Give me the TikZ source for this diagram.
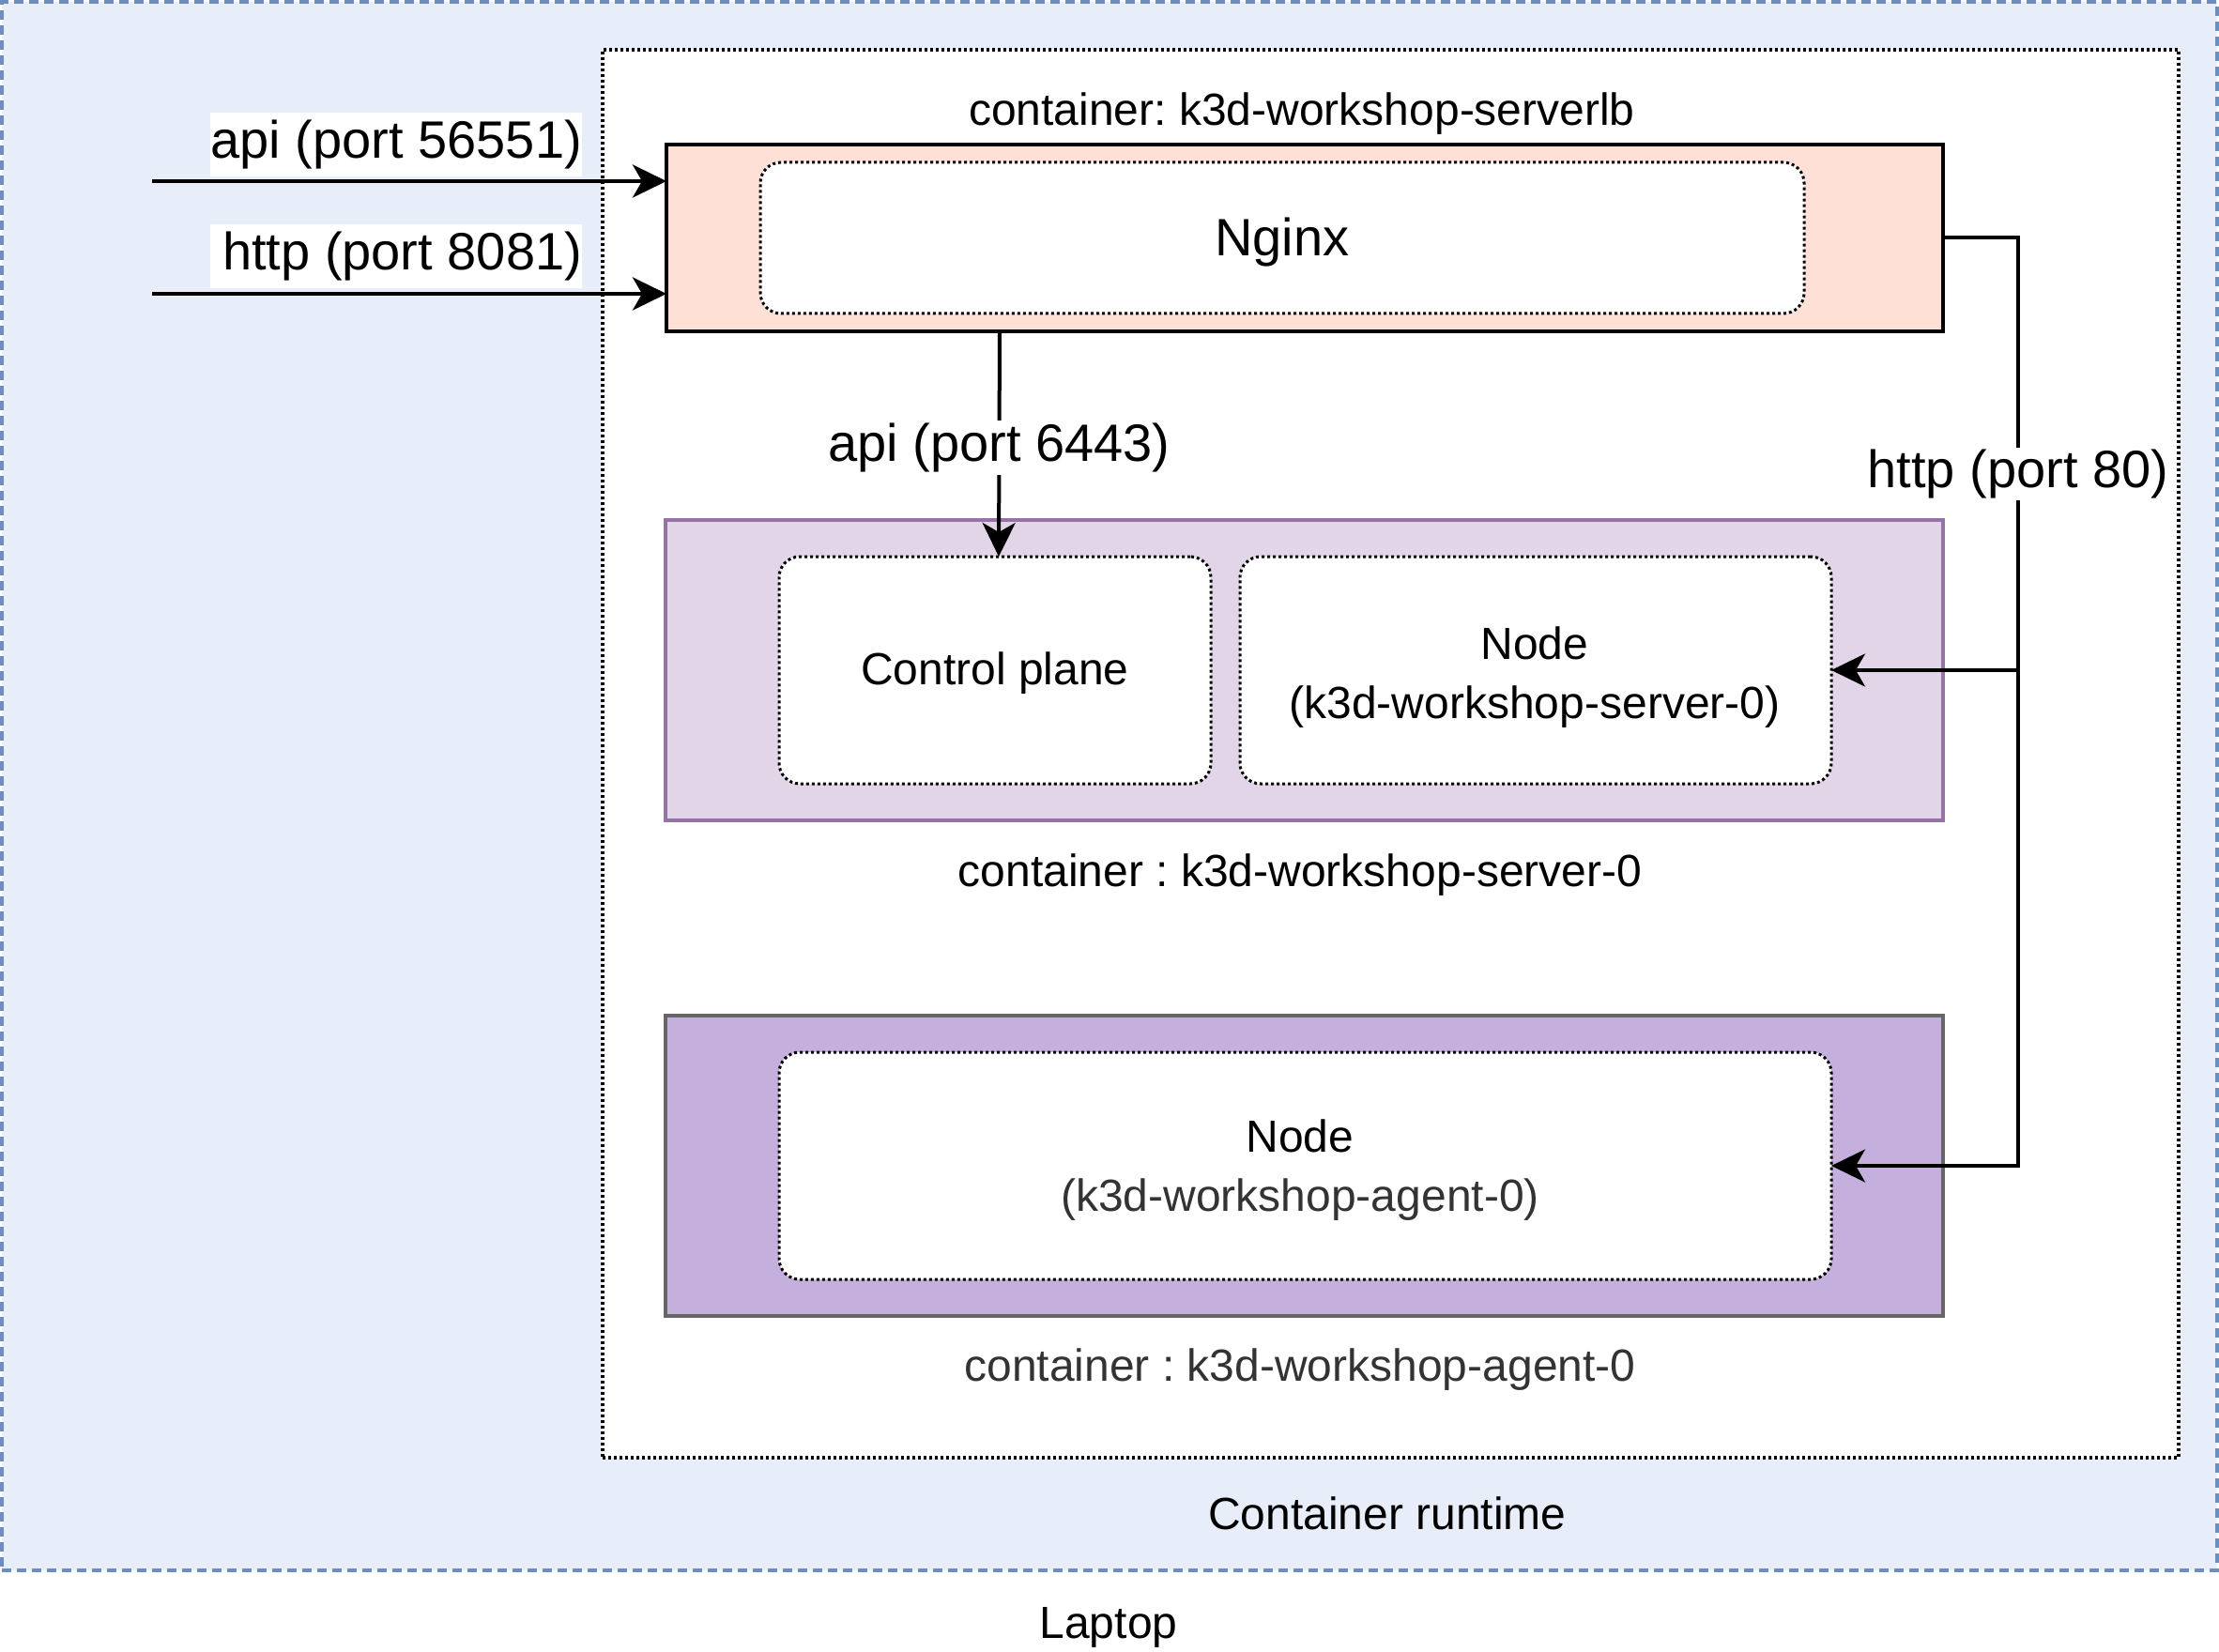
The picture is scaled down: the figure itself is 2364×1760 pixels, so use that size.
\documentclass[tikz,border=0pt]{standalone}
\usepackage{fontspec}
\setmainfont{Liberation Sans}
\usetikzlibrary{arrows.meta}
\definecolor{laptopbg}{HTML}{E7EEF9}
\definecolor{laptopline}{HTML}{6C8EBF}
\definecolor{lbfill}{HTML}{FFE0D7}
\definecolor{srvfill}{HTML}{E1D5E7}
\definecolor{srvline}{HTML}{9673A6}
\definecolor{agfill}{HTML}{C5B0DD}
\definecolor{agline}{HTML}{666666}
\definecolor{darktext}{HTML}{333333}
\frenchspacing
\begin{document}
\frenchspacing
\begin{tikzpicture}[x=1pt,y=-1pt,
  box/.style={anchor=north west,inner sep=0pt,outer sep=0pt},
  inner/.style={box,draw=black,fill=white,line width=3pt,dash pattern=on 3pt off 3pt,rounded corners=22pt},
  big/.style={font=\fontsize{56}{67}\selectfont,inner sep=4pt},
  mid/.style={font=\fontsize{48}{63}\selectfont,align=center,inner sep=0pt},
  myarrow/.style={-{Stealth[length=36pt,width=35pt,inset=10pt]}},
  inarrow/.style={myarrow,line width=4.5pt},
  conn/.style={line width=4pt},
  connarrow/.style={myarrow,line width=4pt}
]
\useasboundingbox (0,0) rectangle (2364,1760);

% Laptop
\node[box,fill=laptopbg,draw=laptopline,line width=4.5pt,dash pattern=on 10pt off 6pt,
  minimum width=2360pt,minimum height=1671pt] (laptop) at (2,2) {};
\node[mid] (laptoplbl) at (1181,1734) {Laptop};

% Container runtime
\node[box,fill=white,draw=black,line width=3.5pt,dash pattern=on 3pt off 3pt,
  minimum width=1679pt,minimum height=1500pt] (runtime) at (642,53) {};
\node[mid] (runtimelbl) at (1478,1612) {Container runtime};

% serverlb
\node[mid] (lblbl) at (1387,121) {container: k3d-workshop-serverlb};
\node[box,fill=lbfill,draw=black,line width=4pt,minimum width=1360pt,minimum height=199pt] (serverlb) at (710,154) {};
\node[inner,minimum width=1112pt,minimum height=161pt] (nginx) at (810,173) {};
\node[big] (nginxlbl) at ([yshift=-5pt]nginx.center) {Nginx};

% server-0
\node[box,fill=srvfill,draw=srvline,line width=3.5pt,minimum width=1361pt,minimum height=320pt] (server) at (709,554) {};
\node[inner,minimum width=460pt,minimum height=242pt] (cp) at (830,593) {};
\node[mid] (cplbl) at ([yshift=-3pt]cp.center) {Control plane};
\node[inner,minimum width=630pt,minimum height=242pt] (srvnode) at (1321,593) {};
\node[mid] (srvnodelbl) at (1635,722) {Node\\(k3d-workshop-server-0)};
\node[mid] (srvlbl) at (1385,932) {container : k3d-workshop-server-0};

% agent-0
\node[box,fill=agfill,draw=agline,line width=4pt,minimum width=1361pt,minimum height=320pt] (agent) at (709,1082) {};
\node[inner,minimum width=1121pt,minimum height=242pt] (agnode) at (830,1121) {};
\node[mid,text=darktext] (agnodelbl) at (1385,1247) {\textcolor{black}{Node}\\(k3d-workshop-agent-0)};
\node[mid,text=darktext] (aglbl) at (1385,1459) {container : k3d-workshop-agent-0};

% incoming arrows
\coordinate (apiin) at (162,193);
\coordinate (httpin) at (162,313);
\node[big,fill=white,inner sep=0pt,minimum width=396pt,minimum height=68pt] (apilbl) at (422,154) {\makebox[396pt][r]{\raisebox{-4pt}{api (port 56551)}}};
\node[big,fill=white,inner sep=0pt,minimum width=396pt,minimum height=68pt] (httplbl) at (422,273) {\makebox[396pt][r]{\raisebox{-4pt}{http (port 8081)}}};
\draw[inarrow] (apiin) -- (apiin -| serverlb.west);
\draw[inarrow] (httpin) -- (httpin -| serverlb.west);

% api 6443
\draw[connarrow] ([xshift=5pt]cp.north |- serverlb.south) -- node[big,fill=white,inner sep=3pt,yshift=-4pt] (api6443) {api (port 6443)} ([xshift=4pt]cp.north);

% http 80
\coordinate (bus) at (2150,255);
\draw[connarrow] (serverlb.east) -| (bus |- agnode.east) -- (agnode.east);
\draw[connarrow] (bus |- srvnode.east) -- (srvnode.east);
\node[big,fill=white,inner sep=2pt] (http80) at (2150,505) {http (port 80)};
\end{tikzpicture}
\end{document}
